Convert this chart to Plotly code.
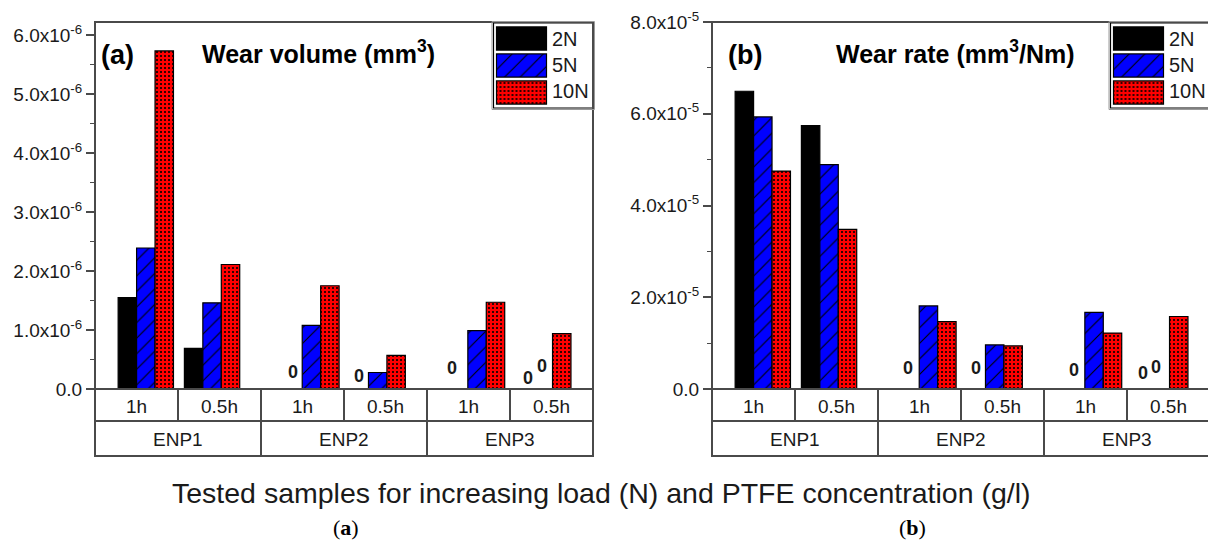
import plotly.graph_objects as go

W, H = 1208, 548

# ---- data -------------------------------------------------------------
groups = ["ENP1", "ENP2", "ENP3"]
durations = ["1h", "0.5h"]
loads = ["2N", "5N", "10N"]

# order of samples: ENP1 1h, ENP1 0.5h, ENP2 1h, ENP2 0.5h, ENP3 1h, ENP3 0.5h
volume_2N = [1.55e-6, 0.69e-6, 0.0, 0.0, 0.0, 0.0]
volume_5N = [2.39e-6, 1.46e-6, 1.08e-6, 0.28e-6, 0.99e-6, 0.0]
volume_10N = [5.73e-6, 2.11e-6, 1.75e-6, 0.57e-6, 1.47e-6, 0.94e-6]

rate_2N = [6.49e-5, 5.74e-5, 0.0, 0.0, 0.0, 0.0]
rate_5N = [5.93e-5, 4.89e-5, 1.81e-5, 0.96e-5, 1.67e-5, 0.0]
rate_10N = [4.75e-5, 3.48e-5, 1.47e-5, 0.94e-5, 1.22e-5, 1.58e-5]

volume_tickvals = [0, 1e-6, 2e-6, 3e-6, 4e-6, 5e-6, 6e-6]
volume_ticktext = ["0.0"] + [f"{k}.0x10<sup>-6</sup>" for k in range(1, 7)]
rate_tickvals = [0, 2e-5, 4e-5, 6e-5, 8e-5]
rate_ticktext = ["0.0"] + [f"{k}.0x10<sup>-5</sup>" for k in (2, 4, 6, 8)]

# ---- styling ----------------------------------------------------------
FONT = "Arial, Liberation Sans, sans-serif"
TXT = "#1a1a1a"
FRAME = "#4a4a4a"
BARGAP = 0.165
GROUP_STEP = 2.5

series_style = [
    dict(color="#000000", pattern=None),
    dict(color="#0000ff", pattern=dict(shape="/", fgcolor="#000000", bgcolor="#0000ff",
                                        size=11, solidity=0.1, fillmode="replace")),
    dict(color="#ff0000", pattern=dict(shape=".", fgcolor="#000000", bgcolor="#ff0000",
                                        size=4, solidity=0.22, fillmode="replace")),
]

positions = [g * GROUP_STEP + d for g in range(len(groups)) for d in range(len(durations))]


def px(x):
    return x / W


def py(y):
    return 1 - y / H


def label(x, y, text, size, color=TXT, family=FONT, xanchor="center"):
    """Paper-positioned text given in pixel coordinates."""
    return dict(x=px(x), y=py(y), xref="paper", yref="paper", text=text,
                showarrow=False, xanchor=xanchor, yanchor="middle",
                font=dict(family=family, size=size, color=color))


# panel geometry in pixels
panels = [
    dict(x0=95, x1=593, top=22, base=389, row=421, bottom=456,
         series=[volume_2N, volume_5N, volume_10N],
         tickvals=volume_tickvals, ticktext=volume_ticktext,
         ymax=6e-6 * (389 - 22) / (389 - 35), minor=0.5e-6,
         tag="(a)", tag_x=99, title="Wear volume (mm<sup>3</sup>)", title_x=200,
         zero_shift=[(0, 17), (0, 13), (-7, 21), (3, 11), (-1, 23)]),
    dict(x0=712, x1=1210, top=22, base=389, row=421, bottom=456,
         series=[rate_2N, rate_5N, rate_10N],
         tickvals=rate_tickvals, ticktext=rate_ticktext,
         ymax=8e-5, minor=1e-5,
         tag="(b)", tag_x=726, title="Wear rate (mm<sup>3</sup>/Nm)", title_x=834,
         zero_shift=[(-2, 21), (0, 21), (-2, 19), (1, 16), (-4, 22)]),
]

X_LEFT_PAD = 0.767
n_units = positions[-1] + 2 * X_LEFT_PAD - 0.017

fig = go.Figure()
shapes = []
annotations = []

for i, p in enumerate(panels):
    ax = "" if i == 0 else str(i + 1)
    xa, ya = "x" + ax, "y" + ax
    unit = (p["x1"] - p["x0"]) / n_units
    right_px = min(p["x1"], W)
    x_range = [-X_LEFT_PAD, -X_LEFT_PAD + (right_px - p["x0"]) / unit]

    for k, (vals, st) in enumerate(zip(p["series"], series_style)):
        marker = dict(color=st["color"], line=dict(color="#000000", width=1.2))
        if st["pattern"]:
            marker["pattern"] = st["pattern"]
        fig.add_trace(go.Bar(x=positions, y=vals, name=loads[k], marker=marker,
                             xaxis=xa, yaxis=ya, showlegend=False, offsetgroup=str(k)))

    # "0" labels on the empty bars
    bw = (1 - BARGAP) / 3
    zi = 0
    for k, vals in enumerate(p["series"]):
        for j, v in enumerate(vals):
            if v == 0:
                dx, dy = p["zero_shift"][zi]
                zi += 1
                annotations.append(dict(
                    x=positions[j] + (k - 1) * bw, y=v, xref=xa, yref=ya,
                    xanchor="center", yanchor="middle",
                    text=f"<b>{v:g}</b>", showarrow=False, xshift=dx, yshift=dy,
                    font=dict(family=FONT, size=18, color=TXT)))

    fig.layout["xaxis" + ax] = dict(
        domain=[px(p["x0"]), px(right_px)], range=x_range, anchor=ya, automargin=False,
        showticklabels=False, ticks="", showgrid=False, zeroline=False, showline=False)
    fig.layout["yaxis" + ax] = dict(
        domain=[py(p["base"]), py(p["top"])], range=[0, p["ymax"]], anchor=xa,
        automargin=False,
        tickmode="array", tickvals=p["tickvals"], ticktext=p["ticktext"],
        ticks="outside", ticklen=8, tickwidth=1.5, tickcolor=FRAME,
        minor=dict(tickmode="linear", tick0=0, dtick=p["minor"], ticks="outside",
                   ticklen=4, tickwidth=1.2, tickcolor=FRAME, showgrid=False),
        tickfont=dict(family=FONT, size=19, color=TXT),
        showgrid=False, zeroline=False, showline=False)

    # frame, baseline and category table
    line = dict(color=FRAME, width=2)
    shapes.append(dict(type="rect", xref="paper", yref="paper",
                       x0=px(p["x0"]), x1=px(p["x1"]), y0=py(p["bottom"]), y1=py(p["top"]),
                       line=line, layer="above"))
    for yy in (p["base"], p["row"]):
        shapes.append(dict(type="line", xref="paper", yref="paper",
                           x0=px(p["x0"]), x1=px(p["x1"]), y0=py(yy), y1=py(yy), line=line))
    cell = (p["x1"] - p["x0"]) / len(positions)
    for c in range(1, len(positions)):
        xx = p["x0"] + c * cell
        y_end = p["bottom"] if c % len(durations) == 0 else p["row"]
        shapes.append(dict(type="line", xref="paper", yref="paper",
                           x0=px(xx), x1=px(xx), y0=py(p["base"]), y1=py(y_end), line=line))
    for c in range(len(positions)):
        annotations.append(label(p["x0"] + (c + 0.5) * cell, (p["base"] + p["row"]) / 2 + 1,
                                 durations[c % len(durations)], 19))
    gcell = cell * len(durations)
    for g, name in enumerate(groups):
        annotations.append(label(p["x0"] + (g + 0.5) * gcell,
                                 (p["row"] + p["bottom"]) / 2 + 1, name, 19))

    # panel tag and title
    annotations.append(label(p["tag_x"], 55, f"<b>{p['tag']}</b>", 27,
                             color="#000000", xanchor="left"))
    annotations.append(label(p["title_x"], 52, f"<b>{p['title']}</b>", 25,
                             color="#000000", xanchor="left"))

    # legend box with patterned swatches drawn on its own small axes
    lx1 = p["x1"]
    lx0 = lx1 - 99.5
    shapes.append(dict(type="rect", xref="paper", yref="paper",
                       x0=px(lx0), x1=px(lx1), y0=py(108), y1=py(23),
                       line=dict(color="#000000", width=1.2), fillcolor="#ffffff", layer="below"))
    shapes.append(dict(type="rect", xref="paper", yref="paper",
                       x0=px(lx0 - 1.5), x1=px(lx1 + 1.5), y0=py(109.5), y1=py(21.5),
                       line=dict(color="#9a9a9a", width=1)))
    lax = str(i + 3)
    for k, st in enumerate(series_style):
        marker = dict(color=st["color"], line=dict(color="#000000", width=1.2))
        if st["pattern"]:
            marker["pattern"] = st["pattern"]
        fig.add_trace(go.Bar(x=[1], y=[k], base=0, orientation="h", width=0.86,
                             marker=marker, xaxis="x" + lax, yaxis="y" + lax,
                             showlegend=False, hoverinfo="skip"))
        annotations.append(label(lx0 + 56, 38.5 + k * 26.5, loads[k], 20, xanchor="left"))
    fig.layout["xaxis" + lax] = dict(
        domain=[px(lx0 + 1), px(lx0 + 55)], range=[-0.04, 1.04], anchor="y" + lax,
        visible=False, fixedrange=True, automargin=False)
    fig.layout["yaxis" + lax] = dict(
        domain=[py(106), py(25)], range=[2.5, -0.5], anchor="x" + lax,
        visible=False, fixedrange=True, automargin=False)

# shared caption and sub-figure labels
annotations.append(label(601, 493,
                         "Tested samples for increasing load (N) and PTFE concentration (g/l)",
                         28.5))
for lab, cx in (("a", 346), ("b", 913)):
    annotations.append(label(cx, 527, f"(<b>{lab}</b>)", 22, color="#000000",
                             family="Liberation Serif, Times New Roman, serif"))

fig.update_layout(
    width=W, height=H, margin=dict(l=0, r=0, t=0, b=0, autoexpand=False),
    paper_bgcolor="#ffffff", plot_bgcolor="rgba(0,0,0,0)",
    barmode="group", bargap=BARGAP, bargroupgap=0,
    shapes=shapes, annotations=annotations, showlegend=False,
)

fig.write_html("out.html")
